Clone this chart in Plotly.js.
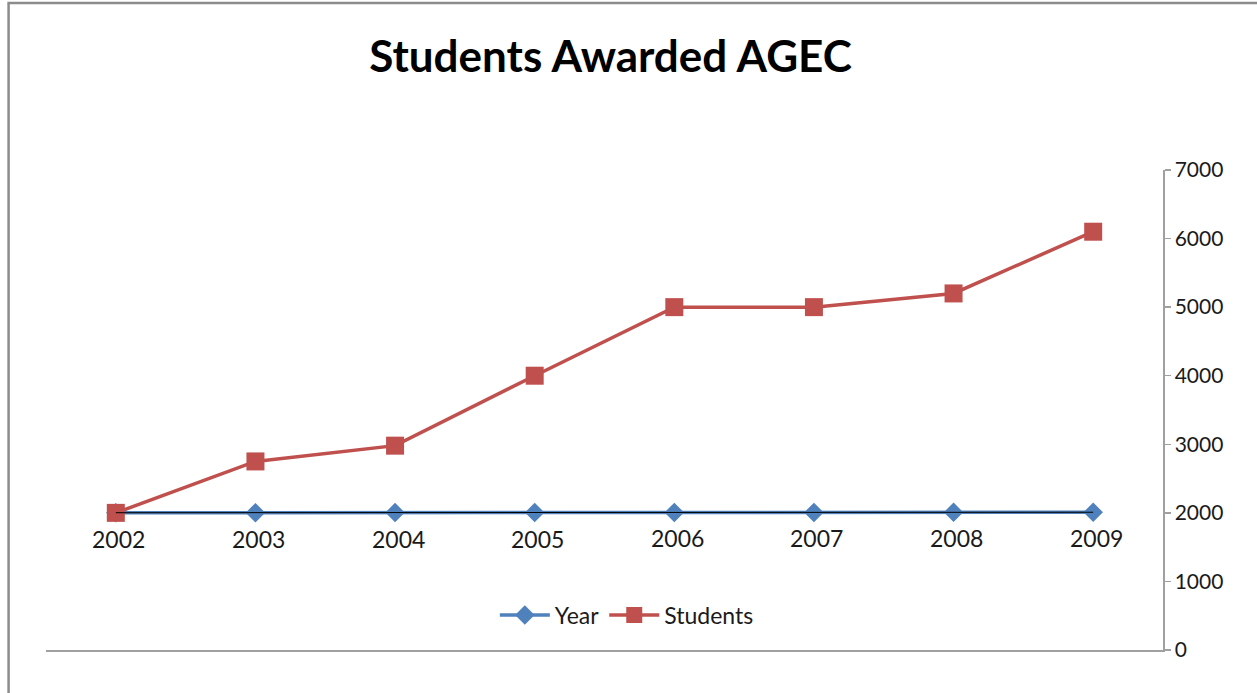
<!DOCTYPE html>
<html>
<head>
<meta charset="utf-8">
<script src="https://cdn.plot.ly/plotly-3.0.1.min.js"></script>
<style>
html, body { margin: 0; padding: 0; background: #ffffff; }
#chart { width: 1257px; height: 693px; }
</style>
</head>
<body>
<div id="chart"></div>
<script>
const categories = ["2002", "2003", "2004", "2005", "2006", "2007", "2008", "2009"];
const yearValues = [2002, 2003, 2004, 2005, 2006, 2007, 2008, 2009];
const studentValues = [2000, 2750, 2980, 4000, 5000, 5000, 5200, 6100];
const yTickValues = [0, 1000, 2000, 3000, 4000, 5000, 6000, 7000];

const FONT = "Lato, 'Open Sans', 'DejaVu Sans', sans-serif";
const xIdx = categories.map((c, i) => i);

const traces = [
  {
    name: "Year",
    x: xIdx,
    y: yearValues,
    type: "scatter",
    mode: "lines+markers",
    line: { color: "#4F81BD", width: 3.5 },
    marker: { symbol: "diamond", size: 15, color: "#4F81BD" },
    cliponaxis: false,
    hoverinfo: "skip"
  },
  {
    name: "Students",
    x: xIdx,
    y: studentValues,
    type: "scatter",
    mode: "lines+markers",
    line: { color: "#C0504D", width: 3.5 },
    marker: { symbol: "square", size: 18, color: "#C0504D" },
    cliponaxis: false,
    hoverinfo: "skip"
  },
  {
    name: "Year axis",
    x: xIdx,
    y: yearValues,
    type: "scatter",
    mode: "lines",
    line: { color: "#000000", width: 1 },
    showlegend: false,
    hoverinfo: "skip"
  }
];

// data labels of the Year series, placed under each point
const yearLabels = xIdx.map((i) => ({
  x: i,
  y: yearValues[i],
  xref: "x",
  yref: "y",
  text: String(yearValues[i]),
  showarrow: false,
  xanchor: "center",
  yanchor: "top",
  yshift: -10,
  xshift: 3,
  font: { family: FONT, size: 23, color: "#1a1a1a" }
}));

const layout = {
  width: 1257,
  height: 693,
  paper_bgcolor: "#ffffff",
  plot_bgcolor: "#ffffff",
  margin: { l: 46, r: 94, t: 170, b: 43, autoexpand: false },
  font: { family: FONT, size: 20, color: "#1a1a1a" },
  title: {
    text: "Students Awarded AGEC",
    font: { family: FONT, size: 44, color: "#000000", weight: 700 },
    x: 0.4857, xref: "container", xanchor: "center",
    y: 0.918, yref: "container", yanchor: "middle"
  },
  xaxis: {
    range: [-0.5, 7.5],
    showgrid: false,
    zeroline: false,
    showline: true,
    linecolor: "#A0A0A0",
    linewidth: 2,
    ticks: "",
    showticklabels: false,
    fixedrange: true
  },
  yaxis: {
    side: "right",
    range: [0, 7000],
    tickvals: yTickValues,
    ticktext: yTickValues.map(String),
    showgrid: false,
    zeroline: false,
    showline: true,
    linecolor: "#A0A0A0",
    linewidth: 1.5,
    ticks: "outside",
    ticklen: 6,
    tickcolor: "#A0A0A0",
    tickwidth: 1.5,
    ticklabelstandoff: 0,
    tickfont: { family: FONT, size: 21, color: "#1a1a1a" },
    fixedrange: true
  },
  legend: {
    orientation: "h",
    x: 0.52, xanchor: "center",
    y: 0.073, yanchor: "middle",
    bgcolor: "rgba(0,0,0,0)",
    font: { family: FONT, size: 23, color: "#1a1a1a" },
    itemwidth: 50,
    traceorder: "normal"
  },
  annotations: yearLabels,
  shapes: [
    {
      type: "rect", xref: "paper", yref: "paper",
      x0: -0.0335, x1: 1.0855, y0: -0.2, y1: 1.348,
      line: { color: "#8C8C8C", width: 2.5 },
      fillcolor: "rgba(0,0,0,0)", layer: "below"
    }
  ],
  showlegend: true,
  hovermode: false
};

Plotly.newPlot("chart", traces, layout, { displayModeBar: false, staticPlot: true });
</script>
</body>
</html>
